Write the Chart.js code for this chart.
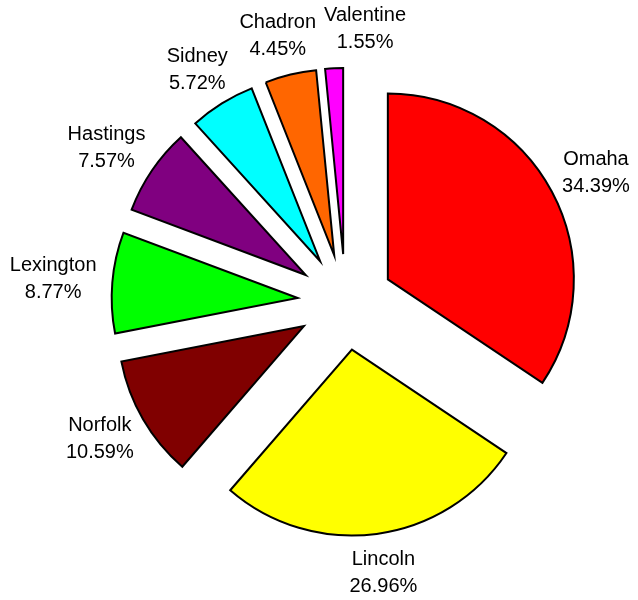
<!DOCTYPE html>
<html>
<head>
<meta charset="utf-8">
<script src="https://cdn.jsdelivr.net/npm/chart.js@4"></script>
<style>
    html, body { margin: 0; padding: 0; background: #fff; }
    #wrap { width: 638px; height: 600px; position: relative; }
</style>
</head>
<body>
<div id="wrap"><canvas id="pieChart"></canvas></div>
<script>
const cities = ["Omaha", "Lincoln", "Norfolk", "Lexington", "Hastings", "Sidney", "Chadron", "Valentine"];
const shares = [34.39, 26.96, 10.59, 8.77, 7.57, 5.72, 4.45, 1.55];
const sliceColors = ["#ff0000", "#ffff00", "#800000", "#00ff00", "#800080", "#00ffff", "#ff6600", "#ff00ff"];

const EXPLODE = 48;     // every slice is pulled out by this much
const LABEL_GAP = 16;   // space between slice edge and its label
const LINE_H = 27;
const LABEL_FONT = "20px 'Liberation Sans', Arial, sans-serif";

// push each slice out along its middle angle
const explodePlugin = {
    id: "explode",
    afterUpdate(chart) {
        chart.getDatasetMeta(0).data.forEach(arc => {
            const mid = (arc.startAngle + arc.endAngle) / 2;
            arc.x += Math.cos(mid) * EXPLODE;
            arc.y += Math.sin(mid) * EXPLODE;
        });
    }
};

// two line labels (name + percent) outside each slice
const labelPlugin = {
    id: "outerLabels",
    afterDatasetsDraw(chart) {
        const ctx = chart.ctx;
        const area = chart.chartArea;
        const cx = (area.left + area.right) / 2;
        const cy = (area.top + area.bottom) / 2;
        ctx.save();
        ctx.font = LABEL_FONT;
        ctx.fillStyle = "#000";
        ctx.textAlign = "center";
        ctx.textBaseline = "middle";
        const boxes = [];
        chart.getDatasetMeta(0).data.forEach((arc, i) => {
            const lines = [cities[i], shares[i].toFixed(2) + "%"];
            const hw = Math.max(...lines.map(t => ctx.measureText(t).width)) / 2;
            const hh = LINE_H / 2 + 10;
            const mid = (arc.startAngle + arc.endAngle) / 2;
            const ux = Math.cos(mid), uy = Math.sin(mid);
            const d = arc.outerRadius + EXPLODE + LABEL_GAP;
            let x = cx + ux * (d + hw);
            let y = cy + uy * (d + hh);
            // nudge sideways if it runs into the previous label
            const prev = boxes[i - 1];
            if (prev && Math.abs(x - prev.x) < hw + prev.hw + 8 && Math.abs(y - prev.y) < hh + prev.hh) {
                x = x >= prev.x ? prev.x + prev.hw + 8 + hw : prev.x - prev.hw - 8 - hw;
            }
            boxes.push({ x, y, hw, hh });
            ctx.fillText(lines[0], x, y - LINE_H / 2);
            ctx.fillText(lines[1], x, y + LINE_H / 2);
        });
        ctx.restore();
    }
};

new Chart(document.getElementById("pieChart"), {
    type: "pie",
    data: {
        labels: cities,
        datasets: [{
            data: shares,
            backgroundColor: sliceColors,
            borderColor: "#000",
            borderWidth: 2,
            borderJoinStyle: "miter",
            radius: 186
        }]
    },
    options: {
        responsive: true,
        maintainAspectRatio: false,
        animation: false,
        events: [],
        layout: { padding: { left: 53, top: 4, right: 0, bottom: 0 } },
        plugins: {
            legend: { display: false },
            tooltip: { enabled: false }
        }
    },
    plugins: [explodePlugin, labelPlugin]
});
</script>
</body>
</html>
